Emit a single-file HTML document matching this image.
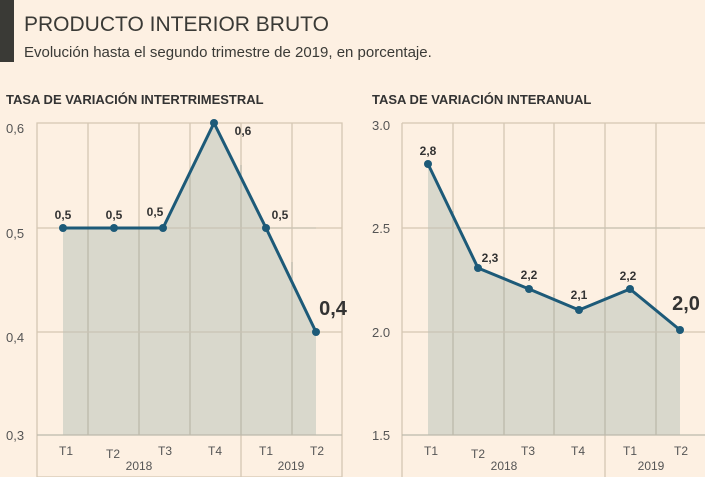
<!DOCTYPE html>
<html><head><meta charset="utf-8"><style>
body{margin:0;background:#fdf0e2;}
svg{display:block;font-family:"Liberation Sans",sans-serif;}
</style></head><body>
<svg width="705" height="477" viewBox="0 0 705 477">
<rect width="705" height="477" fill="#fdf0e2"/>
<rect x="0" y="0" width="14" height="62" fill="#3a3a36"/>
<text x="24" y="31" font-size="21" fill="#3a3a36">PRODUCTO INTERIOR BRUTO</text>
<text x="24" y="57" font-size="15" fill="#3a3a36">Evolución hasta el segundo trimestre de 2019, en porcentaje.</text>
<text x="6" y="104" font-size="13" font-weight="bold" fill="#333">TASA DE VARIACIÓN INTERTRIMESTRAL</text>
<text x="372" y="104" font-size="13" font-weight="bold" fill="#333">TASA DE VARIACIÓN INTERANUAL</text>
<g fill="none" stroke="#d5c7b3" stroke-width="1.3">
<path d="M37 123H342V477H37ZM37 228H342M37 332H342M88 123V435M139 123V435M190 123V435M241 123V477M292 123V435"/>
<path d="M402 123H705M402 123V477M402 228H705M402 332H705M453 123V435M504 123V435M554 123V435M605 123V477M656 123V435"/>
</g>
<polygon points="63,435 63,228 114,228 163,228 214,123 266,228 316,332 316,435" fill="#d9d8cc"/>
<polygon points="428,435 428,164 478,268 529,289 579,310 630,289 680,330 680,435" fill="#d9d8cc"/>
<g stroke="#bdb9ab" stroke-width="1.3"><path d="M37 435H342M402 435H705M88 228V435M139 228V435M190 170V435M241 165V435M292 262V435M453 211V435M504 273V435M554 294V435M605 296V435M656 310V435"/></g>
<g stroke="#c9c3b4" stroke-width="1.3"><path d="M63 228H316M63 332H316M428 228H680M428 332H680"/></g>
<g fill="none" stroke="#1d5a78" stroke-width="3" stroke-linejoin="round">
<polyline points="63,228 114,228 163,228 214,123 266,228 316,332"/>
<polyline points="428,164 478,268 529,289 579,310 630,289 680,330"/>
</g>
<g fill="#1d5a78">
<circle cx="63" cy="228" r="4"/><circle cx="114" cy="228" r="4"/><circle cx="163" cy="228" r="4"/><circle cx="214" cy="123" r="4"/><circle cx="266" cy="228" r="4"/><circle cx="316" cy="332" r="4"/>
<circle cx="428" cy="164" r="4"/><circle cx="478" cy="268" r="4"/><circle cx="529" cy="289" r="4"/><circle cx="579" cy="310" r="4"/><circle cx="630" cy="289" r="4"/><circle cx="680" cy="330" r="4"/>
</g>
<g font-size="12" font-weight="bold" fill="#333" text-anchor="middle">
<text x="63" y="219">0,5</text><text x="114" y="219">0,5</text><text x="155" y="216">0,5</text><text x="243" y="135">0,6</text><text x="280" y="219">0,5</text>
<text x="428" y="155">2,8</text><text x="490" y="262">2,3</text><text x="529" y="279">2,2</text><text x="579" y="299">2,1</text><text x="628" y="280">2,2</text>
<text x="333" y="315" font-size="20">0,4</text><text x="686" y="310" font-size="20">2,0</text>
</g>
<g font-size="13" fill="#555">
<text x="6" y="133">0,6</text><text x="6" y="238">0,5</text><text x="6" y="342">0,4</text><text x="6" y="440">0,3</text>
<text x="372" y="130">3.0</text><text x="372" y="233">2.5</text><text x="372" y="337">2.0</text><text x="372" y="440">1.5</text>
</g>
<g font-size="12" fill="#555" text-anchor="middle">
<text x="66" y="455">T1</text><text x="113" y="458">T2</text><text x="165" y="455">T3</text><text x="215" y="455">T4</text><text x="266" y="455">T1</text><text x="317" y="455">T2</text>
<text x="139" y="470">2018</text><text x="291" y="470">2019</text>
<text x="431" y="455">T1</text><text x="478" y="458">T2</text><text x="528" y="455">T3</text><text x="578" y="455">T4</text><text x="630" y="455">T1</text><text x="681" y="455">T2</text>
<text x="504" y="470">2018</text><text x="651" y="470">2019</text>
</g>
</svg>
</body></html>
